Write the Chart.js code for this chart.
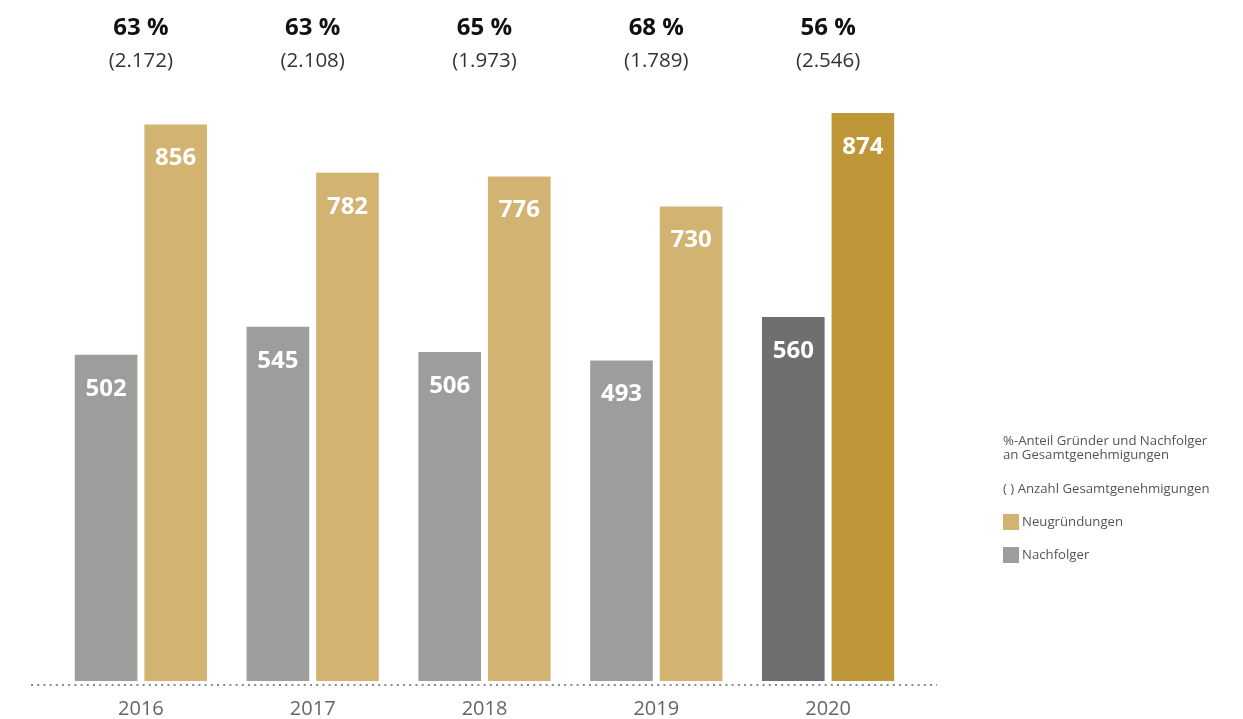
<!DOCTYPE html>
<html lang="de">
<head>
<meta charset="utf-8">
<title>Neugründungen und Nachfolger</title>
<script src="https://cdn.jsdelivr.net/npm/chart.js@4/dist/chart.umd.min.js"></script>
<style>
  html, body { margin: 0; padding: 0; background: #fff; }
  #wrap { width: 1243px; height: 719px; position: relative; }
</style>
</head>
<body>
<div id="wrap"><canvas id="chart" width="1243" height="719"></canvas></div>
<script>
// ---- data ----
const years = ['2016', '2017', '2018', '2019', '2020'];
const nachfolger = [502, 545, 506, 493, 560];
const neugruendungen = [856, 782, 776, 730, 874];
const anteil = ['63 %', '63 %', '65 %', '68 %', '56 %'];
const gesamt = ['(2.172)', '(2.108)', '(1.973)', '(1.789)', '(2.546)'];

const legendLines = ['%-Anteil Gründer und Nachfolger', 'an Gesamtgenehmigungen', '( ) Anzahl Gesamtgenehmigungen'];

// colours (last year highlighted)
const greyCol = '#9d9d9c', greyDark = '#6f6f6f';
const goldCol = '#d2b372', goldDark = '#bf9638';
const FONT = '"Open Sans", "Noto Sans", sans-serif';

// ----- header labels, bar values, dotted baseline, legend -----
const extras = {
  id: 'extras',
  afterDatasetsDraw(chart) {
    const ctx = chart.ctx;
    const area = chart.chartArea;
    const xs = chart.scales.x;
    ctx.save();

    // values inside bars
    ctx.fillStyle = '#fff';
    ctx.font = 'bold 24px ' + FONT;
    ctx.textAlign = 'center';
    ctx.textBaseline = 'middle';
    chart.data.datasets.forEach((ds, di) => {
      chart.getDatasetMeta(di).data.forEach((bar, i) => {
        ctx.fillText(String(ds.data[i]), bar.x, bar.y + 34);
      });
    });

    // percentage + total above each group
    years.forEach((y, i) => {
      const cx = xs.getPixelForValue(i);
      ctx.fillStyle = '#111';
      ctx.font = 'bold 24px ' + FONT;
      ctx.fillText(anteil[i], cx, 28);
      ctx.fillStyle = '#333';
      ctx.font = '20.5px ' + FONT;
      ctx.fillText(gesamt[i], cx, 61);
    });

    // dotted baseline
    ctx.strokeStyle = '#8a8a8a';
    ctx.lineWidth = 2;
    ctx.setLineDash([2, 4.2]);
    ctx.beginPath();
    ctx.moveTo(area.left - 24, area.bottom + 4);
    ctx.lineTo(area.right + 23, area.bottom + 4);
    ctx.stroke();
    ctx.setLineDash([]);

    // legend
    const lx = 1003;
    ctx.textAlign = 'left';
    ctx.textBaseline = 'alphabetic';
    ctx.fillStyle = '#555';
    ctx.font = '13.2px ' + FONT;
    ctx.fillText(legendLines[0], lx, 445);
    ctx.fillText(legendLines[1], lx, 459);
    ctx.fillText(legendLines[2], lx, 493);
    ctx.fillStyle = goldCol;
    ctx.fillRect(lx, 514, 16, 16);
    ctx.fillStyle = greyCol;
    ctx.fillRect(lx, 547, 16, 16);
    ctx.fillStyle = '#555';
    ctx.fillText(chart.data.datasets[1].label, lx + 19, 526);
    ctx.fillText(chart.data.datasets[0].label, lx + 19, 559);

    ctx.restore();
  }
};

new Chart(document.getElementById('chart').getContext('2d'), {
  type: 'bar',
  data: {
    labels: years,
    datasets: [
      {
        label: 'Nachfolger',
        data: nachfolger,
        backgroundColor: nachfolger.map((v, i) => i === years.length - 1 ? greyDark : greyCol),
        barPercentage: 0.9,
        categoryPercentage: 0.81
      },
      {
        label: 'Neugründungen',
        data: neugruendungen,
        backgroundColor: neugruendungen.map((v, i) => i === years.length - 1 ? goldDark : goldCol),
        barPercentage: 0.9,
        categoryPercentage: 0.81
      }
    ]
  },
  options: {
    responsive: false,
    animation: false,
    layout: { padding: { left: 55, right: 329, top: 96, bottom: 0 } },
    plugins: { legend: { display: false }, tooltip: { enabled: false } },
    scales: {
      x: {
        grid: { display: false, drawTicks: false },
        border: { display: false },
        ticks: { color: '#666', padding: 18, font: { family: FONT, size: 20, lineHeight: 1.0 } },
        afterFit(scale) { scale.height = 38; }
      },
      y: { display: false, min: 0, max: 900 }
    }
  },
  plugins: [extras]
});
</script>
</body>
</html>
